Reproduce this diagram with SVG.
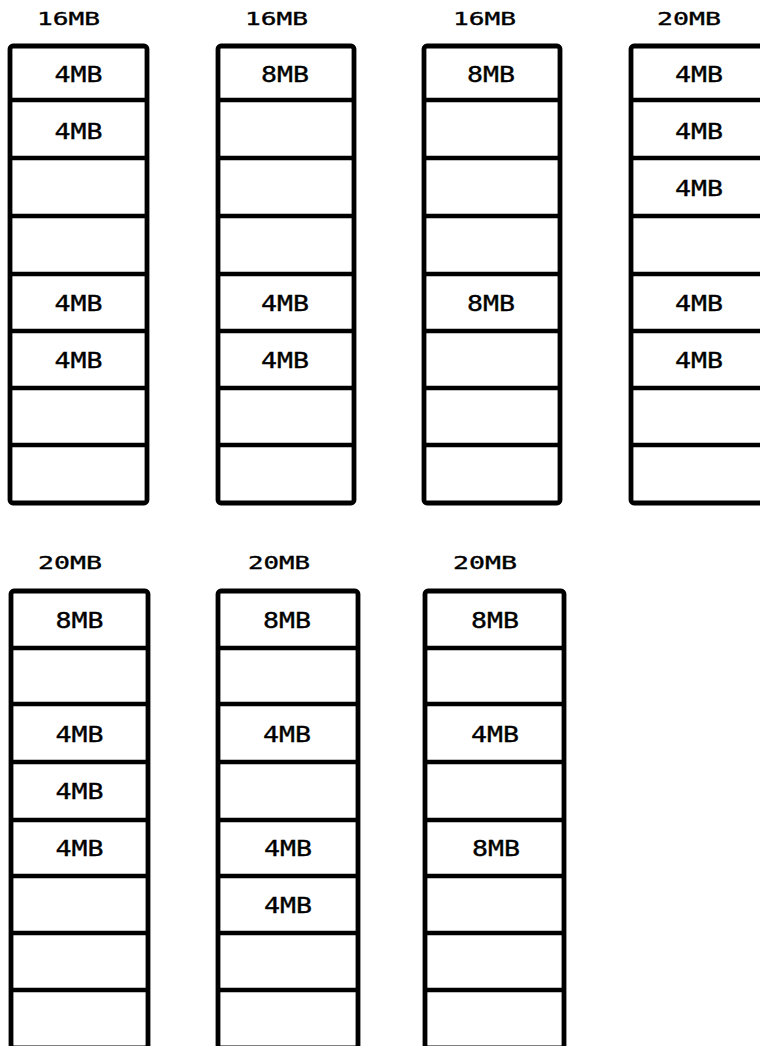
<svg xmlns="http://www.w3.org/2000/svg" width="760" height="1046" viewBox="0 0 760 1046">
<style>
  .frame{fill:none;stroke:#000;stroke-width:4.8;stroke-linejoin:round}
  .div{stroke:#000;stroke-width:4.5}
  .title{font-family:"DejaVu Sans Mono","Liberation Mono",monospace;font-size:17.5px;fill:#000;stroke:#000;stroke-width:0.35}
  .lbl{font-family:"DejaVu Sans Mono","Liberation Mono",monospace;font-size:21px;fill:#000;stroke:#000;stroke-width:0.35;text-anchor:middle}
</style>
<rect width="760" height="1046" fill="#fff"/>

<!-- Top row -->
<g id="col-a1">
  <text class="title" x="37" y="25" textLength="63" lengthAdjust="spacingAndGlyphs">16MB</text>
  <rect class="frame" x="10" y="46" width="137" height="457" rx="3"/>
  <g class="div">
    <line x1="10" y1="100" x2="147" y2="100"/><line x1="10" y1="158" x2="147" y2="158"/>
    <line x1="10" y1="216" x2="147" y2="216"/><line x1="10" y1="274" x2="147" y2="274"/>
    <line x1="10" y1="331" x2="147" y2="331"/><line x1="10" y1="388" x2="147" y2="388"/>
    <line x1="10" y1="445" x2="147" y2="445"/>
  </g>
  <text class="lbl" x="78.5" y="81.5" textLength="48" lengthAdjust="spacingAndGlyphs">4MB</text>
  <text class="lbl" x="78.5" y="138.5" textLength="48" lengthAdjust="spacingAndGlyphs">4MB</text>
  <text class="lbl" x="78.5" y="311" textLength="48" lengthAdjust="spacingAndGlyphs">4MB</text>
  <text class="lbl" x="78.5" y="367.5" textLength="48" lengthAdjust="spacingAndGlyphs">4MB</text>
</g>

<g id="col-a2">
  <text class="title" x="245" y="25" textLength="63" lengthAdjust="spacingAndGlyphs">16MB</text>
  <rect class="frame" x="218" y="46" width="136" height="457" rx="3"/>
  <g class="div">
    <line x1="218" y1="100" x2="354" y2="100"/><line x1="218" y1="158" x2="354" y2="158"/>
    <line x1="218" y1="216" x2="354" y2="216"/><line x1="218" y1="274" x2="354" y2="274"/>
    <line x1="218" y1="331" x2="354" y2="331"/><line x1="218" y1="388" x2="354" y2="388"/>
    <line x1="218" y1="445" x2="354" y2="445"/>
  </g>
  <text class="lbl" x="285" y="81.5" textLength="48" lengthAdjust="spacingAndGlyphs">8MB</text>
  <text class="lbl" x="285" y="311" textLength="48" lengthAdjust="spacingAndGlyphs">4MB</text>
  <text class="lbl" x="285" y="367.5" textLength="48" lengthAdjust="spacingAndGlyphs">4MB</text>
</g>

<g id="col-a3">
  <text class="title" x="453" y="25" textLength="63" lengthAdjust="spacingAndGlyphs">16MB</text>
  <rect class="frame" x="424" y="46" width="136" height="457" rx="3"/>
  <g class="div">
    <line x1="424" y1="100" x2="560" y2="100"/><line x1="424" y1="158" x2="560" y2="158"/>
    <line x1="424" y1="216" x2="560" y2="216"/><line x1="424" y1="274" x2="560" y2="274"/>
    <line x1="424" y1="331" x2="560" y2="331"/><line x1="424" y1="388" x2="560" y2="388"/>
    <line x1="424" y1="445" x2="560" y2="445"/>
  </g>
  <text class="lbl" x="491" y="81.5" textLength="48" lengthAdjust="spacingAndGlyphs">8MB</text>
  <text class="lbl" x="491" y="311" textLength="48" lengthAdjust="spacingAndGlyphs">8MB</text>
</g>

<g id="col-a4">
  <text class="title" x="657" y="25" textLength="64" lengthAdjust="spacingAndGlyphs">20MB</text>
  <rect class="frame" x="631" y="46" width="137" height="457" rx="3"/>
  <g class="div">
    <line x1="631" y1="100" x2="768" y2="100"/><line x1="631" y1="158" x2="768" y2="158"/>
    <line x1="631" y1="216" x2="768" y2="216"/><line x1="631" y1="274" x2="768" y2="274"/>
    <line x1="631" y1="331" x2="768" y2="331"/><line x1="631" y1="388" x2="768" y2="388"/>
    <line x1="631" y1="445" x2="768" y2="445"/>
  </g>
  <text class="lbl" x="699" y="81.5" textLength="48" lengthAdjust="spacingAndGlyphs">4MB</text>
  <text class="lbl" x="699" y="138.5" textLength="48" lengthAdjust="spacingAndGlyphs">4MB</text>
  <text class="lbl" x="699" y="195.5" textLength="48" lengthAdjust="spacingAndGlyphs">4MB</text>
  <text class="lbl" x="699" y="311" textLength="48" lengthAdjust="spacingAndGlyphs">4MB</text>
  <text class="lbl" x="699" y="367.5" textLength="48" lengthAdjust="spacingAndGlyphs">4MB</text>
</g>

<!-- Bottom row -->
<g id="col-b1">
  <text class="title" x="38" y="569" textLength="64" lengthAdjust="spacingAndGlyphs">20MB</text>
  <rect class="frame" x="11" y="591" width="137" height="457" rx="3"/>
  <g class="div">
    <line x1="11" y1="648" x2="148" y2="648"/><line x1="11" y1="704" x2="148" y2="704"/>
    <line x1="11" y1="762" x2="148" y2="762"/><line x1="11" y1="820" x2="148" y2="820"/>
    <line x1="11" y1="876" x2="148" y2="876"/><line x1="11" y1="933" x2="148" y2="933"/>
    <line x1="11" y1="990" x2="148" y2="990"/>
  </g>
  <text class="lbl" x="79.5" y="627.5" textLength="48" lengthAdjust="spacingAndGlyphs">8MB</text>
  <text class="lbl" x="79.5" y="741.5" textLength="48" lengthAdjust="spacingAndGlyphs">4MB</text>
  <text class="lbl" x="79.5" y="798.5" textLength="48" lengthAdjust="spacingAndGlyphs">4MB</text>
  <text class="lbl" x="79.5" y="855.5" textLength="48" lengthAdjust="spacingAndGlyphs">4MB</text>
</g>

<g id="col-b2">
  <text class="title" x="248" y="569" textLength="62" lengthAdjust="spacingAndGlyphs">20MB</text>
  <rect class="frame" x="218" y="591" width="140" height="457" rx="3"/>
  <g class="div">
    <line x1="218" y1="648" x2="358" y2="648"/><line x1="218" y1="704" x2="358" y2="704"/>
    <line x1="218" y1="762" x2="358" y2="762"/><line x1="218" y1="820" x2="358" y2="820"/>
    <line x1="218" y1="876" x2="358" y2="876"/><line x1="218" y1="933" x2="358" y2="933"/>
    <line x1="218" y1="990" x2="358" y2="990"/>
  </g>
  <text class="lbl" x="287" y="627.5" textLength="48" lengthAdjust="spacingAndGlyphs">8MB</text>
  <text class="lbl" x="287" y="741.5" textLength="48" lengthAdjust="spacingAndGlyphs">4MB</text>
  <text class="lbl" x="288" y="855.5" textLength="48" lengthAdjust="spacingAndGlyphs">4MB</text>
  <text class="lbl" x="288" y="912.5" textLength="48" lengthAdjust="spacingAndGlyphs">4MB</text>
</g>

<g id="col-b3">
  <text class="title" x="453" y="569" textLength="64" lengthAdjust="spacingAndGlyphs">20MB</text>
  <rect class="frame" x="425" y="591" width="139" height="457" rx="3"/>
  <g class="div">
    <line x1="425" y1="648" x2="564" y2="648"/><line x1="425" y1="704" x2="564" y2="704"/>
    <line x1="425" y1="762" x2="564" y2="762"/><line x1="425" y1="820" x2="564" y2="820"/>
    <line x1="425" y1="876" x2="564" y2="876"/><line x1="425" y1="933" x2="564" y2="933"/>
    <line x1="425" y1="990" x2="564" y2="990"/>
  </g>
  <text class="lbl" x="495" y="627.5" textLength="48" lengthAdjust="spacingAndGlyphs">8MB</text>
  <text class="lbl" x="495" y="741.5" textLength="48" lengthAdjust="spacingAndGlyphs">4MB</text>
  <text class="lbl" x="496" y="855.5" textLength="48" lengthAdjust="spacingAndGlyphs">8MB</text>
</g>

<g id="connectors"></g>
</svg>
